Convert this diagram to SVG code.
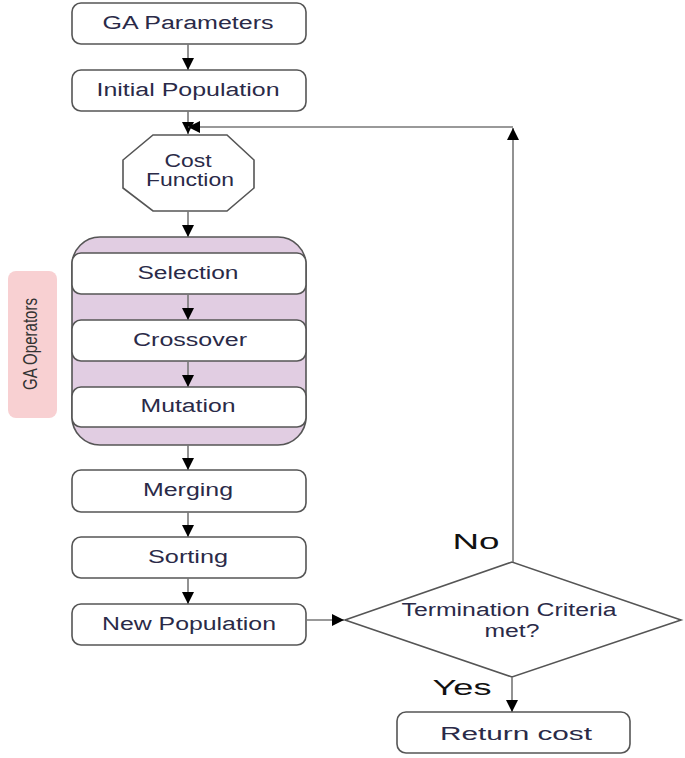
<svg xmlns="http://www.w3.org/2000/svg" width="685" height="758" viewBox="0 0 685 758">
<defs>
<style>
.box{fill:#ffffff;stroke:#555555;stroke-width:1.6}
.t{font-family:"Liberation Sans",Arial,sans-serif;font-size:18px;fill:#2a2a48;text-anchor:middle}
.big{font-family:"Liberation Sans",Arial,sans-serif;font-size:22px;fill:#111111;text-anchor:middle}
.ln{fill:none;stroke:#777777;stroke-width:1.6}
</style>
<marker id="ah" viewBox="0 0 12 12" refX="12" refY="6" markerWidth="12" markerHeight="12" markerUnits="userSpaceOnUse" orient="auto">
<path d="M0,0 L12,6 L0,12 Z" fill="#000000"/>
</marker>
</defs>
<rect width="685" height="758" fill="#ffffff"/>

<g id="ga-operators-label">
<rect x="8" y="271" width="49" height="147" rx="8" fill="#f8d0d2"/>
<text x="0" y="0" transform="translate(37,344) rotate(-90)" font-family="'Liberation Sans',Arial,sans-serif" font-size="21" fill="#333333" text-anchor="middle" textLength="92" lengthAdjust="spacingAndGlyphs">GA Operators</text>
</g>

<g id="ga-params">
<rect class="box" x="72" y="3" width="234" height="41" rx="9"/>
<text class="t" x="188" y="29" textLength="171" lengthAdjust="spacingAndGlyphs">GA Parameters</text>
</g>
<g id="initial-population">
<rect class="box" x="72" y="70" width="234" height="41" rx="9"/>
<text class="t" x="188" y="96" textLength="183" lengthAdjust="spacingAndGlyphs">Initial Population</text>
</g>
<g id="cost-function">
<polygon class="box" points="153,135 227,135 254,160 254,188 227,211 153,211 123,188 123,160"/>
<text class="t" x="188" y="167" textLength="47" lengthAdjust="spacingAndGlyphs">Cost</text>
<text class="t" x="190" y="186" textLength="88" lengthAdjust="spacingAndGlyphs">Function</text>
</g>
<g id="operators-container">
<rect x="72" y="237" width="234" height="208" rx="28" fill="#e1cde2" stroke="#555555" stroke-width="1.6"/>
</g>
<g id="selection">
<rect class="box" x="72" y="253" width="234" height="41" rx="9"/>
<text class="t" x="188" y="279" textLength="101" lengthAdjust="spacingAndGlyphs">Selection</text>
</g>
<g id="crossover">
<rect class="box" x="72" y="320" width="234" height="41" rx="9"/>
<text class="t" x="190" y="346" textLength="114" lengthAdjust="spacingAndGlyphs">Crossover</text>
</g>
<g id="mutation">
<rect class="box" x="72" y="387" width="234" height="40" rx="9"/>
<text class="t" x="188" y="412" textLength="95" lengthAdjust="spacingAndGlyphs">Mutation</text>
</g>
<g id="merging">
<rect class="box" x="72" y="470" width="234" height="42" rx="9"/>
<text class="t" x="188" y="496" textLength="90" lengthAdjust="spacingAndGlyphs">Merging</text>
</g>
<g id="sorting">
<rect class="box" x="72" y="537" width="234" height="41" rx="9"/>
<text class="t" x="188" y="563" textLength="80" lengthAdjust="spacingAndGlyphs">Sorting</text>
</g>
<g id="new-population">
<rect class="box" x="72" y="604" width="234" height="41" rx="9"/>
<text class="t" x="189" y="630" textLength="174" lengthAdjust="spacingAndGlyphs">New Population</text>
</g>
<g id="termination">
<polygon class="box" points="345,620 512,562 681,620 512,677"/>
<text class="t" x="509" y="616" font-size="16" textLength="215" lengthAdjust="spacingAndGlyphs">Termination Criteria</text>
<text class="t" x="512" y="637" font-size="16" textLength="55" lengthAdjust="spacingAndGlyphs">met?</text>
</g>
<g id="return-cost">
<rect class="box" x="397" y="712" width="233" height="41" rx="9"/>
<text class="t" x="516" y="740" font-size="22" textLength="152" lengthAdjust="spacingAndGlyphs">Return cost</text>
</g>

<g id="connectors">
<line class="ln" x1="188" y1="44" x2="188" y2="70" marker-end="url(#ah)"/>
<line class="ln" x1="188" y1="111" x2="188" y2="134" marker-end="url(#ah)"/>
<line class="ln" x1="188" y1="211" x2="188" y2="237" marker-end="url(#ah)"/>
<line class="ln" x1="188" y1="294" x2="188" y2="320" marker-end="url(#ah)"/>
<line class="ln" x1="188" y1="361" x2="188" y2="387" marker-end="url(#ah)"/>
<line class="ln" x1="188" y1="445" x2="188" y2="470" marker-end="url(#ah)"/>
<line class="ln" x1="188" y1="512" x2="188" y2="537" marker-end="url(#ah)"/>
<line class="ln" x1="188" y1="578" x2="188" y2="604" marker-end="url(#ah)"/>
<line class="ln" x1="306" y1="620" x2="344" y2="620" marker-end="url(#ah)"/>
<line class="ln" x1="512" y1="677" x2="512" y2="712" marker-end="url(#ah)"/>
<line class="ln" x1="513" y1="562" x2="513" y2="128" marker-end="url(#ah)"/>
<line class="ln" x1="513" y1="127" x2="188" y2="127" marker-end="url(#ah)"/>
<text class="big" x="476" y="549" textLength="47" lengthAdjust="spacingAndGlyphs">No</text>
<text class="big" x="462" y="695" textLength="59" lengthAdjust="spacingAndGlyphs">Yes</text>
</g>
</svg>
